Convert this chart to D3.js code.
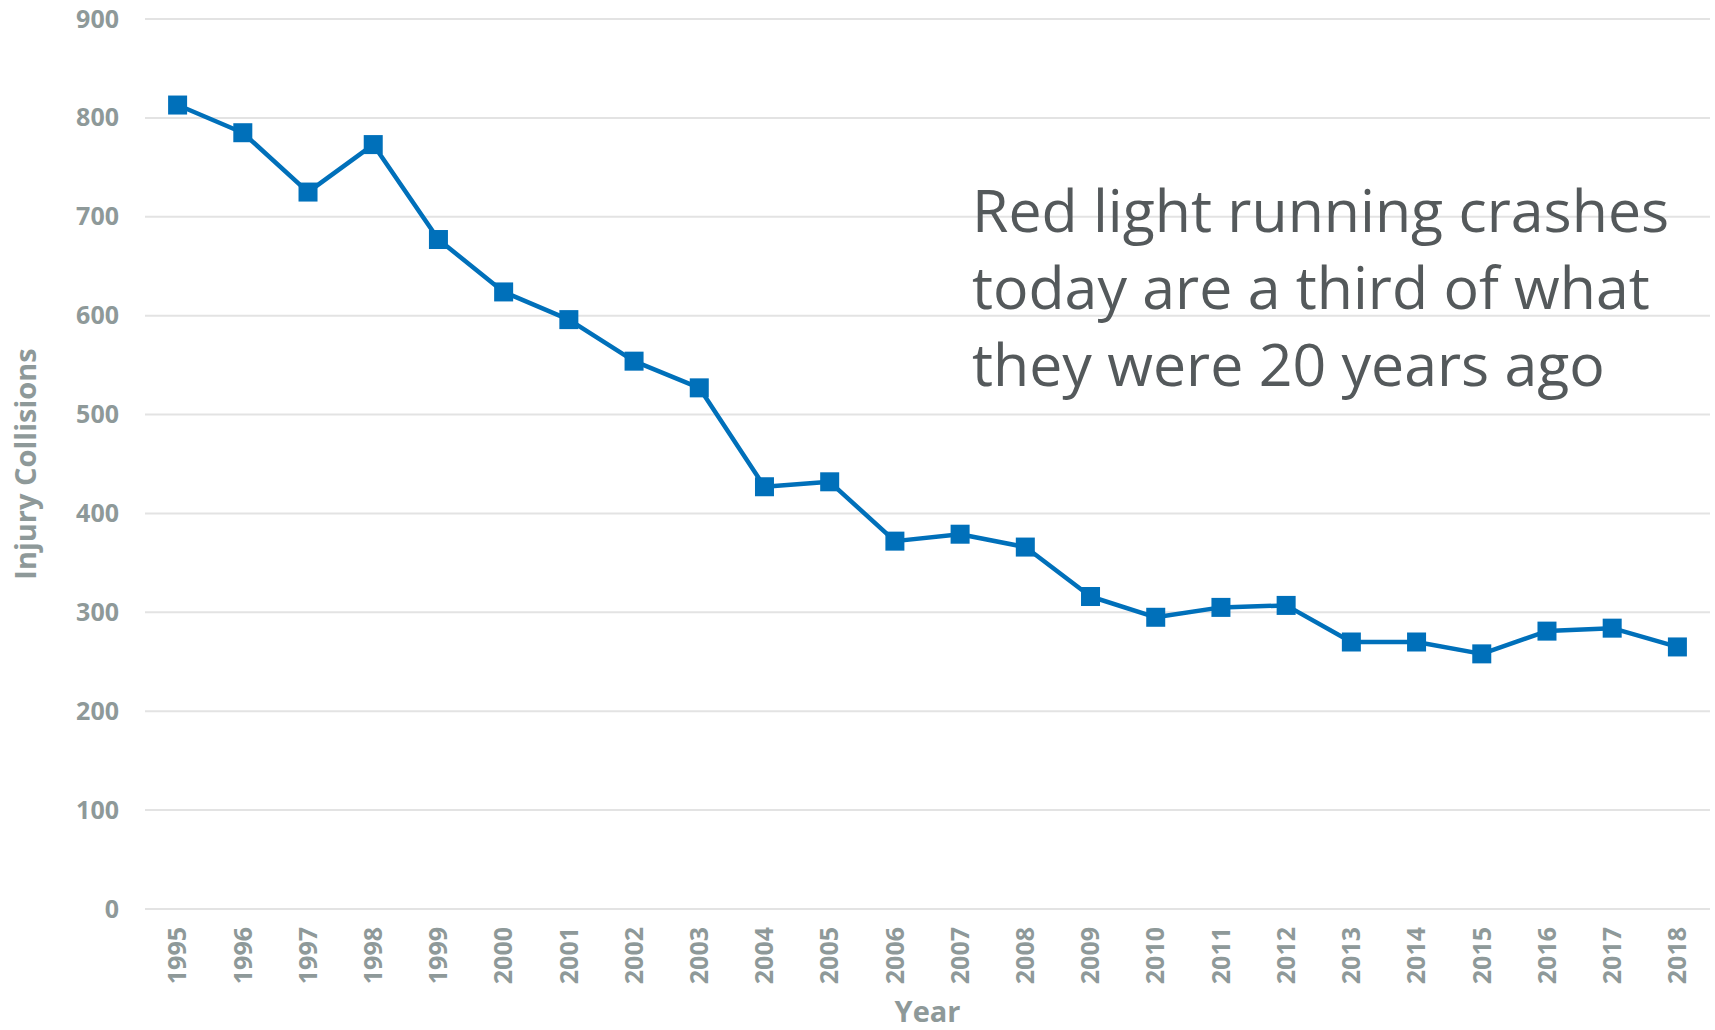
<!DOCTYPE html>
<html>
<head>
<meta charset="utf-8">
<script src="https://d3js.org/d3.v7.min.js"></script>
<style>
  body { margin: 0; background: #ffffff; }
  svg { display: block; }
</style>
</head>
<body>
<div class="chart"></div>
<script>
var w = 1715;
var h = 1030;

// datos
var years = ["1995","1996","1997","1998","1999","2000","2001","2002","2003","2004","2005","2006",
             "2007","2008","2009","2010","2011","2012","2013","2014","2015","2016","2017","2018"];
var collisions = [813, 785, 725, 773, 677, 624, 596, 554, 527, 427, 432, 372,
                  379, 366, 316, 295, 305, 307, 270, 270, 258, 281, 284, 265];
var yTicks = [0, 100, 200, 300, 400, 500, 600, 700, 800, 900];
var note = ["Red light running crashes", "today are a third of what", "they were 20 years ago"];

var margin = { top: 19, right: 5, bottom: 121, left: 145 };

var svg = d3.select(".chart")
  .append("svg")
  .attr("width", w)
  .attr("height", h)
  .style("background", "#FFFFFF");

var x = d3.scaleBand()
  .domain(years)
  .range([margin.left, w - margin.right]);

var y = d3.scaleLinear()
  .domain([0, 900])
  .range([h - margin.bottom, margin.top]);

var grey = "#8e9999";

// líneas de la cuadrícula
svg.append("g")
  .selectAll("line")
  .data(yTicks)
  .enter()
  .append("line")
  .attr("x1", margin.left)
  .attr("x2", w - margin.right)
  .attr("y1", function(d) { return y(d); })
  .attr("y2", function(d) { return y(d); })
  .attr("stroke", "#e3e3e3")
  .attr("stroke-width", 2);

// eje y
var yAxis = svg.append("g")
  .attr("transform", "translate(" + margin.left + ",0)")
  .call(d3.axisLeft(y).tickValues(yTicks).tickSize(0).tickPadding(26));
yAxis.select(".domain").remove();
yAxis.selectAll("text")
  .attr("fill", grey)
  .style("font-family", "'Open Sans', sans-serif")
  .style("font-weight", "bold")
  .style("font-size", "25px");

// eje x
var xAxis = svg.append("g")
  .attr("transform", "translate(0," + (h - margin.bottom) + ")")
  .call(d3.axisBottom(x).tickSize(0));
xAxis.select(".domain").remove();
xAxis.selectAll("text")
  .attr("fill", grey)
  .attr("transform", "rotate(-90)")
  .attr("text-anchor", "end")
  .attr("x", -18)
  .attr("y", 0)
  .attr("dy", "0.35em")
  .style("font-family", "'Open Sans', sans-serif")
  .style("font-weight", "bold")
  .style("font-size", "25px");

// títulos de los ejes
svg.append("text")
  .attr("x", (margin.left + w - margin.right) / 2)
  .attr("y", 1022)
  .attr("text-anchor", "middle")
  .attr("fill", grey)
  .style("font-family", "'Open Sans', sans-serif")
  .style("font-weight", "bold")
  .style("font-size", "29px")
  .text("Year");

svg.append("text")
  .attr("transform", "translate(36," + y(450) + ") rotate(-90)")
  .attr("text-anchor", "middle")
  .attr("fill", grey)
  .style("font-family", "'Open Sans', sans-serif")
  .style("font-weight", "bold")
  .style("font-size", "29px")
  .text("Injury Collisions");

// línea
var line = d3.line()
  .x(function(d, i) { return x(years[i]) + x.bandwidth() / 2; })
  .y(function(d) { return y(d); });

svg.append("path")
  .datum(collisions)
  .attr("d", line)
  .attr("fill", "none")
  .attr("stroke", "#0070ba")
  .attr("stroke-width", 4.5)
  .attr("stroke-linejoin", "round");

// marcadores cuadrados
var s = 19;
svg.append("g")
  .selectAll("rect")
  .data(collisions)
  .enter()
  .append("rect")
  .attr("x", function(d, i) { return x(years[i]) + x.bandwidth() / 2 - s / 2; })
  .attr("y", function(d) { return y(d) - s / 2; })
  .attr("width", s)
  .attr("height", s)
  .attr("fill", "#0070ba");

// anotación
svg.append("g")
  .selectAll("text")
  .data(note)
  .enter()
  .append("text")
  .attr("x", 972)
  .attr("y", function(d, i) { return 232 + i * 77; })
  .attr("fill", "#54595b")
  .style("font-family", "'Open Sans', sans-serif")
  .style("font-size", "59px")
  .text(function(d) { return d; });
</script>
</body>
</html>
